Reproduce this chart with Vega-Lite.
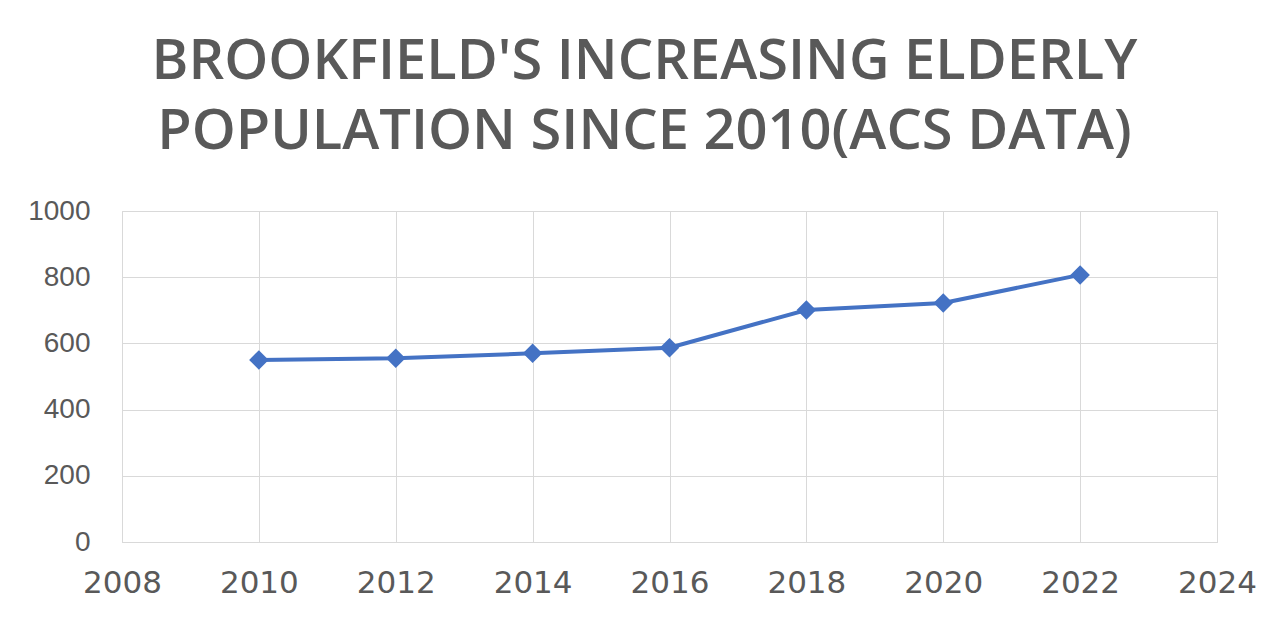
{
  "$schema": "https://vega.github.io/schema/vega-lite/v6.json",
  "width": 1095,
  "height": 331,
  "autosize": {"type": "none"},
  "padding": {"left": 122, "top": 211, "right": 71, "bottom": 81},
  "background": "white",
  "title": {
    "text": ["BROOKFIELD'S INCREASING ELDERLY", "POPULATION SINCE 2010(ACS DATA)"],
    "font": "Open Sans",
    "fontSize": 56,
    "fontWeight": 600,
    "color": "#595959",
    "anchor": "middle",
    "dx": -25,
    "lineHeight": 70,
    "offset": 36
  },
  "data": {
    "values": [
      {"year": 2010, "population": 550},
      {"year": 2012, "population": 555},
      {"year": 2014, "population": 570},
      {"year": 2016, "population": 587},
      {"year": 2018, "population": 701},
      {"year": 2020, "population": 722},
      {"year": 2022, "population": 807}
    ]
  },
  "mark": {
    "type": "line",
    "color": "#4472C4",
    "strokeWidth": 4,
    "point": {"shape": "diamond", "size": 380, "filled": true, "color": "#4472C4", "opacity": 1}
  },
  "encoding": {
    "x": {
      "field": "year",
      "type": "quantitative",
      "scale": {"domain": [2008, 2024], "nice": false, "zero": false},
      "axis": {
        "title": null,
        "values": [2008, 2010, 2012, 2014, 2016, 2018, 2020, 2022, 2024],
        "format": "d",
        "labelFont": "DejaVu Sans",
        "labelFontSize": 31,
        "labelColor": "#595959",
        "labelPadding": 26,
        "ticks": false,
        "domainColor": "#d9d9d9",
        "gridColor": "#d9d9d9",
        "labelFlush": false
      }
    },
    "y": {
      "field": "population",
      "type": "quantitative",
      "scale": {"domain": [0, 1000], "nice": false},
      "axis": {
        "title": null,
        "values": [0, 200, 400, 600, 800, 1000],
        "format": "d",
        "labelFont": "Liberation Sans",
        "labelFontSize": 28,
        "labelColor": "#595959",
        "labelPadding": 32,
        "ticks": false,
        "domain": false,
        "gridColor": "#d9d9d9"
      }
    }
  },
  "config": {
    "view": {"stroke": "#d9d9d9"}
  }
}
